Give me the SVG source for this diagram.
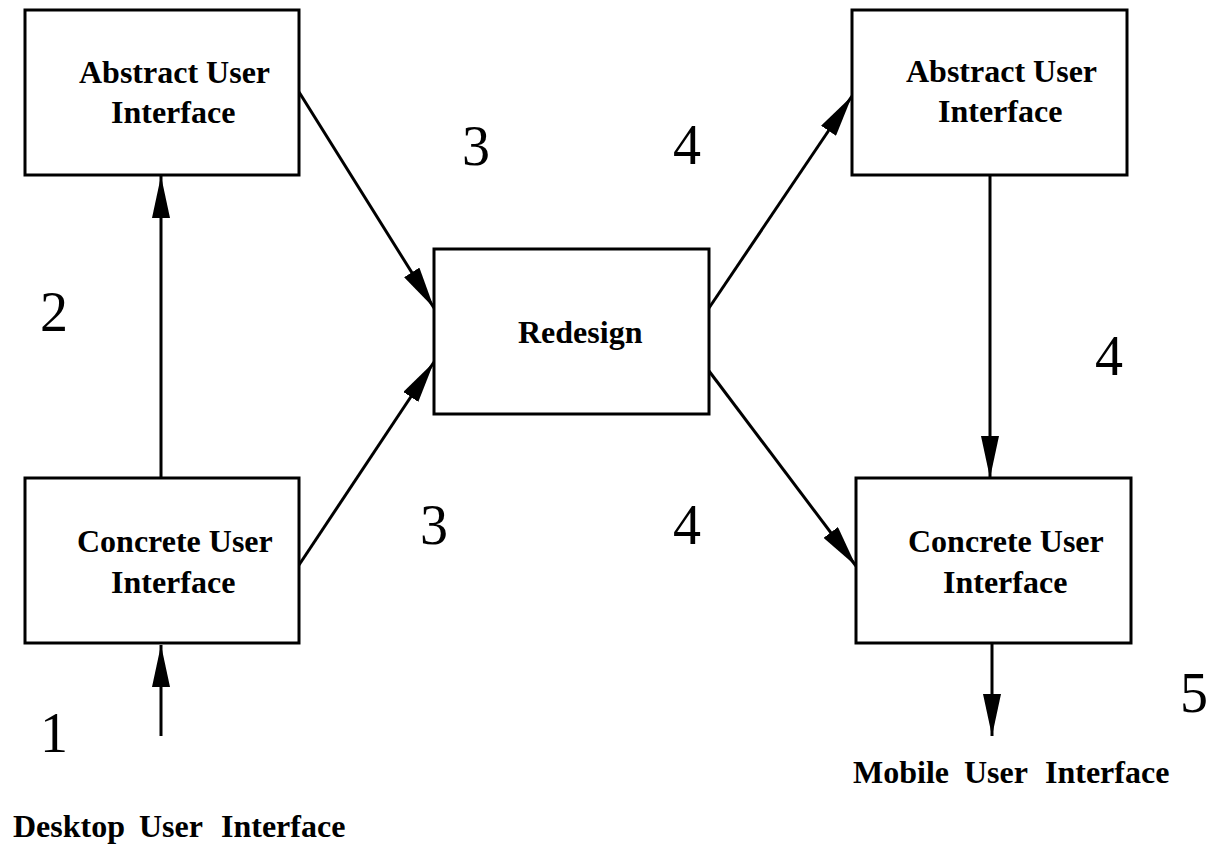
<svg xmlns="http://www.w3.org/2000/svg" width="1211" height="845" viewBox="0 0 1211 845">
  <style>
    .box { fill: #ffffff; stroke: #000000; stroke-width: 3; }
    .lbl { font-family: "Liberation Serif", "Times New Roman", serif; font-weight: bold; font-size: 32px; fill: #000000; }
    .num { font-family: "Liberation Serif", "Times New Roman", serif; font-size: 56px; fill: #000000; }
    .edge { stroke: #000000; stroke-width: 3; fill: none; marker-end: url(#head); }
  </style>
  <defs>
    <marker id="head" viewBox="0 0 42 18" refX="42" refY="9" markerWidth="42" markerHeight="18" markerUnits="userSpaceOnUse" orient="auto">
      <path d="M0,0 L42,9 L0,18 z" fill="#000000"/>
    </marker>
  </defs>
  <rect width="1211" height="845" fill="#ffffff"/>

  <!-- connectors -->
  <g id="connectors">
    <line class="edge" x1="161" y1="736" x2="161" y2="645"/>
    <line class="edge" x1="161" y1="478" x2="161" y2="176"/>
    <line class="edge" x1="299" y1="92" x2="434" y2="308"/>
    <line class="edge" x1="299" y1="565" x2="434" y2="362"/>
    <line class="edge" x1="709" y1="308" x2="852" y2="96"/>
    <line class="edge" x1="709" y1="371" x2="856" y2="566"/>
    <line class="edge" x1="990" y1="175" x2="990" y2="478"/>
    <line class="edge" x1="992" y1="643" x2="992" y2="736"/>
  </g>

  <!-- nodes -->
  <g id="abstract-desktop">
    <rect class="box" x="25" y="10" width="274" height="165"/>
    <text class="lbl" x="79" y="83">Abstract User</text>
    <text class="lbl" x="111" y="123">Interface</text>
  </g>
  <g id="concrete-desktop">
    <rect class="box" x="25" y="478" width="274" height="165"/>
    <text class="lbl" x="77" y="552">Concrete User</text>
    <text class="lbl" x="111" y="593">Interface</text>
  </g>
  <g id="redesign">
    <rect class="box" x="434" y="249" width="275" height="165"/>
    <text class="lbl" x="518" y="343">Redesign</text>
  </g>
  <g id="abstract-mobile">
    <rect class="box" x="852" y="10" width="275" height="165"/>
    <text class="lbl" x="906" y="82">Abstract User</text>
    <text class="lbl" x="938" y="122">Interface</text>
  </g>
  <g id="concrete-mobile">
    <rect class="box" x="856" y="478" width="275" height="165"/>
    <text class="lbl" x="908" y="552">Concrete User</text>
    <text class="lbl" x="943" y="593">Interface</text>
  </g>

  <!-- input / output labels -->
  <g id="desktop-ui">
    <text class="lbl" x="13" y="837">Desktop</text>
    <text class="lbl" x="139" y="837">User</text>
    <text class="lbl" x="221" y="837">Interface</text>
  </g>
  <g id="mobile-ui">
    <text class="lbl" x="853" y="783">Mobile</text>
    <text class="lbl" x="964" y="783">User</text>
    <text class="lbl" x="1045" y="783">Interface</text>
  </g>

  <!-- step numbers -->
  <g id="steps">
    <text class="num" x="40" y="752">1</text>
    <text class="num" x="40" y="331">2</text>
    <text class="num" x="462" y="165">3</text>
    <text class="num" x="420" y="544">3</text>
    <text class="num" x="673" y="164">4</text>
    <text class="num" x="673" y="544">4</text>
    <text class="num" x="1095" y="375">4</text>
    <text class="num" x="1180" y="712">5</text>
  </g>
</svg>
